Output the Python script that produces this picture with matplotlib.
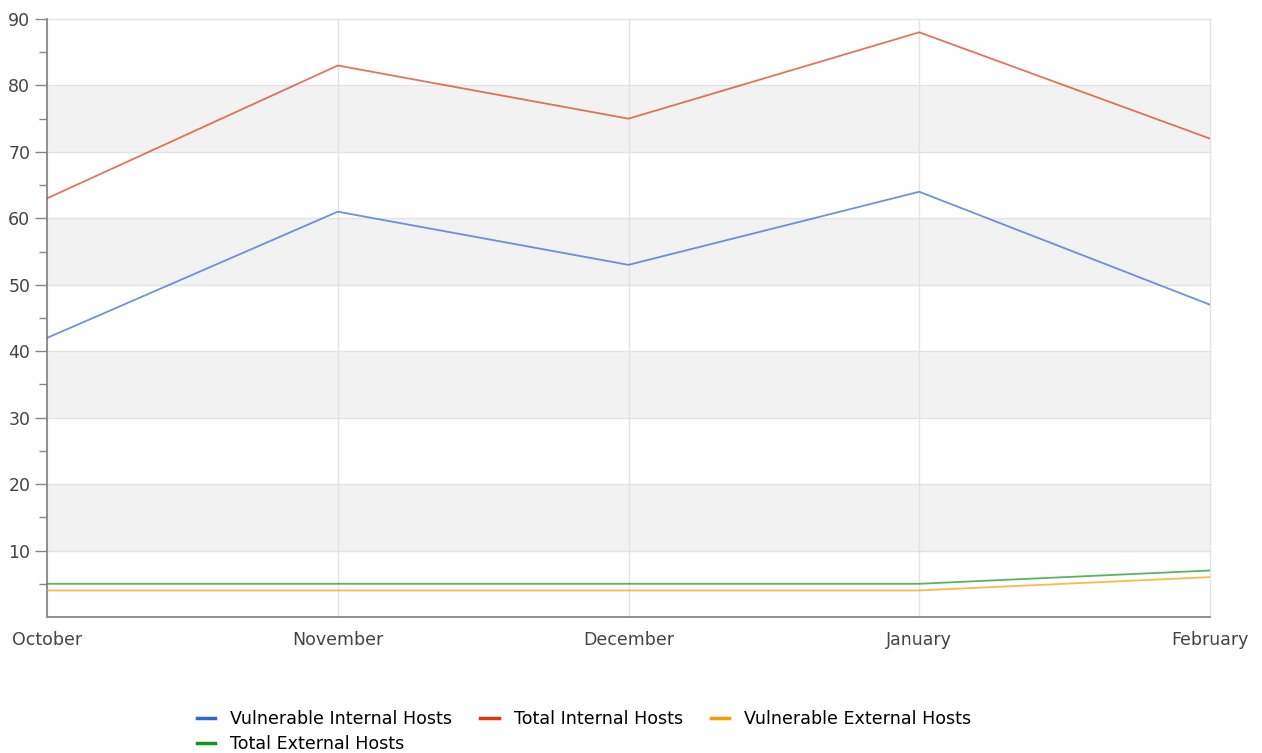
import matplotlib
matplotlib.use("Agg")
import matplotlib.pyplot as plt
from matplotlib.lines import Line2D

months = ["October", "November", "December", "January", "February"]
vuln_internal = [42, 61, 53, 64, 47]
total_internal = [63, 83, 75, 88, 72]
vuln_external = [4, 4, 4, 4, 6]
total_external = [5, 5, 5, 5, 7]
y_ticks = [10, 20, 30, 40, 50, 60, 70, 80, 90]

series = [
    ("Vulnerable Internal Hosts", vuln_internal, "#3366cc"),
    ("Total Internal Hosts", total_internal, "#dc3912"),
    ("Vulnerable External Hosts", vuln_external, "#ff9900"),
    ("Total External Hosts", total_external, "#109618"),
]

fig = plt.figure(figsize=(12.62, 7.53), dpi=100)
ax = fig.add_axes([47/1262, 1-617/753, (1210-47)/1262, (617-19)/753])

x = list(range(len(months)))
ax.set_xlim(0, len(months)-1)
ax.set_ylim(0, 90)

# alternating bands
for lo in range(10, 90, 20):
    ax.axhspan(lo, lo+10, color="#f2f2f2", zorder=0, lw=0)
for t in y_ticks:
    ax.axhline(t, color="#e3e3e3", lw=1, zorder=1, clip_on=False)
for xi in x:
    ax.axvline(xi, color="#e3e3e3", lw=1, zorder=1, clip_on=False)

for name, vals, col in series:
    ax.plot(x, vals, color=col, lw=1.3, alpha=0.7, zorder=3)

ax.set_xticks(x)
ax.set_xticklabels(months)
ax.set_yticks(y_ticks)
ax.set_yticks(list(range(5, 90, 10)), minor=True)
ax.tick_params(axis="x", length=0, pad=10, labelsize=12.5, labelcolor="#444444")
ax.tick_params(axis="y", which="major", length=9, width=1, color="#888888", labelsize=12.5, labelcolor="#444444", pad=3)
ax.tick_params(axis="y", which="minor", length=6, width=1, color="#888888")
for s in ["top", "right"]:
    ax.spines[s].set_visible(False)
for s in ["left", "bottom"]:
    ax.spines[s].set_color("#888888")
    ax.spines[s].set_linewidth(1.3)

handles = [Line2D([0], [0], color=c, lw=2.5) for _, _, c in series]
labels = [n for n, _, _ in series]
order = [0, 3, 1, 2]
fig.legend([handles[i] for i in order], [labels[i] for i in order],
           loc="upper left", bbox_to_anchor=(197/1262, 1-710/753), ncol=3,
           frameon=False, fontsize=12.6, handlelength=1.05, handletextpad=0.85,
           columnspacing=1.6, labelspacing=0.38, borderpad=0, borderaxespad=0)

fig.savefig("out.png", dpi=100)
